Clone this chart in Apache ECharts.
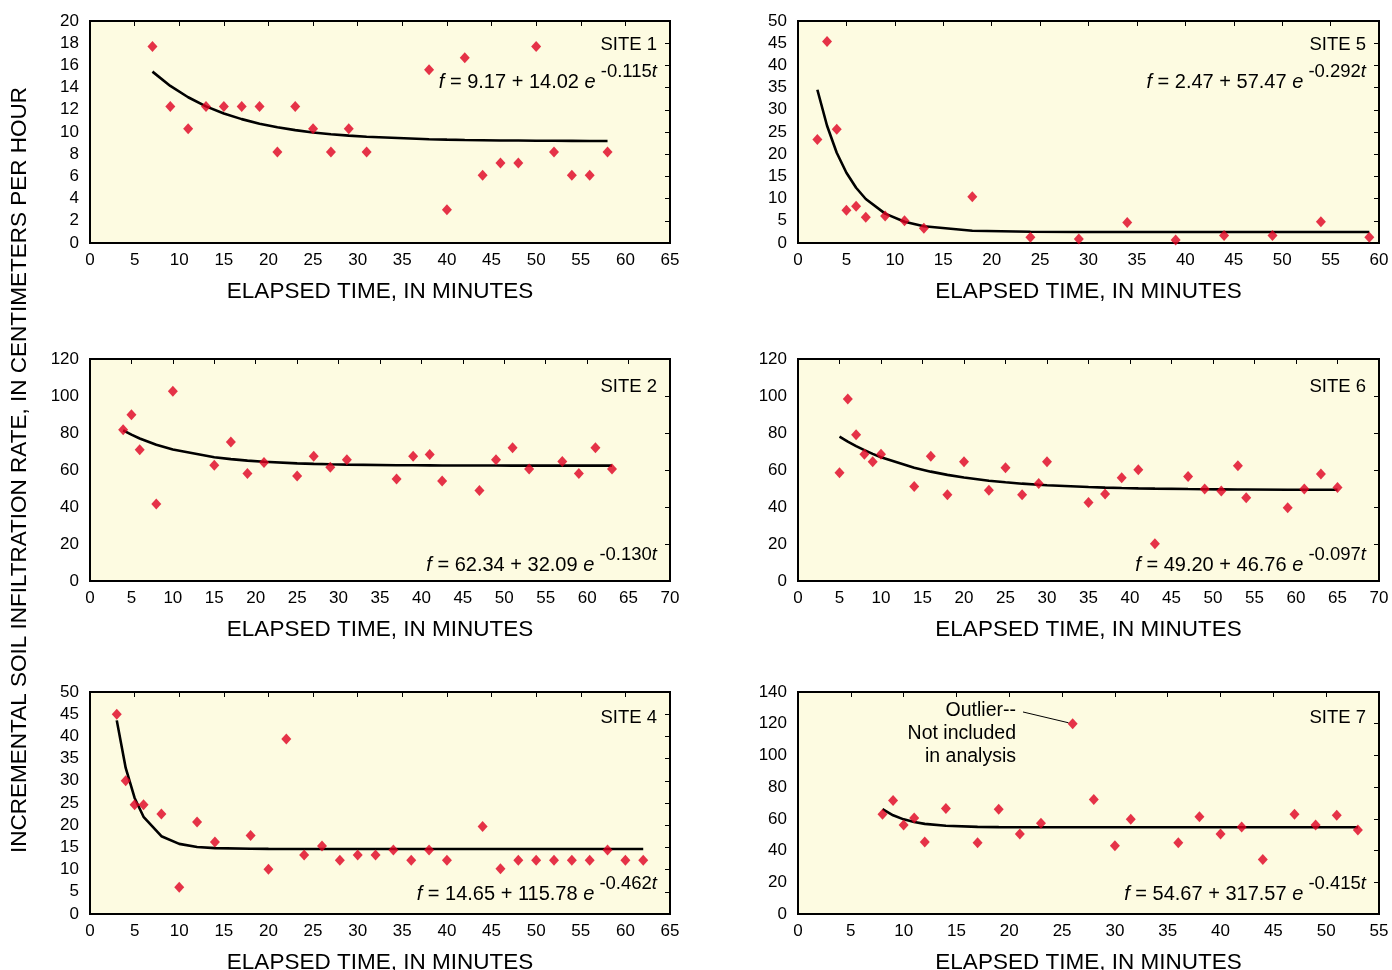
<!DOCTYPE html>
<html><head><meta charset="utf-8">
<script src="https://cdn.jsdelivr.net/npm/echarts@6/dist/echarts.min.js"></script>
<style>html,body{margin:0;padding:0;background:#fff}#c{width:1392px;height:970px}</style>
</head><body><div id="c"></div>
<script>
// ---------------- DATA ----------------
const xTitle = 'ELAPSED TIME, IN MINUTES';
const yTitle = 'INCREMENTAL SOIL INFILTRATION RATE, IN CENTIMETERS PER HOUR';

const site1Time = [7,9,11,13,15,17,19,21,23,25,27,29,31,38,40,42,44,46,48,50,52,54,56,58];
const site1Rate = [17.7,12.3,10.3,12.3,12.3,12.3,12.3,8.2,12.3,10.3,8.2,10.3,8.2,15.6,3.0,16.7,6.1,7.2,7.2,17.7,8.2,6.1,6.1,8.2];
const site1Fit  = [15.44,14.15,13.13,12.31,11.67,11.16,10.75,10.42,10.17,9.96,9.80,9.67,9.57,9.35,9.31,9.28,9.26,9.24,9.23,9.21,9.21,9.20,9.19,9.19];

const site5Time = [2,3,4,5,6,7,9,11,13,18,24,29,34,39,44,49,54,59];
const site5Rate = [23.3,45.4,25.6,7.4,8.3,5.8,6.1,5.0,3.3,10.4,1.3,0.9,4.6,0.7,1.7,1.7,4.8,1.3];
const site5Fit  = [34.52,26.40,20.34,15.82,12.44,9.91,6.62,4.78,3.76,2.77,2.52,2.48,2.47,2.47,2.47,2.47,2.47,2.47];

const site2Time = [4,5,6,8,10,15,17,19,21,25,27,29,31,37,39,41,42.5,47,49,51,53,57,59,61,63];
const site2Rate = [81.7,89.8,70.9,41.6,102.6,62.6,75.2,58.1,64.1,56.7,67.5,61.5,65.5,55.2,67.5,68.4,54.0,48.9,65.5,72.0,60.6,64.6,58.1,72.0,60.6];
const site2Fit  = [81.42,79.09,77.05,73.68,71.09,66.91,65.86,65.05,64.43,63.58,63.30,63.08,62.91,62.60,62.54,62.50,62.47,62.41,62.40,62.38,62.37,62.36,62.36,62.35,62.35];

const site6Time = [5,6,7,8,9,10,14,16,18,20,23,25,27,29,30,35,37,39,41,43,47,49,51,53,54,59,61,63,65];
const site6Rate = [58.5,98.4,79.0,68.5,64.4,68.5,51.1,67.5,46.6,64.4,49.1,61.2,46.6,52.7,64.4,42.4,47.0,55.8,60.1,20.2,56.5,49.7,48.6,62.3,45.0,39.6,49.7,57.9,50.6];
const site6Fit  = [77.99,75.33,72.91,70.72,68.73,66.93,61.23,59.11,57.36,55.92,54.22,53.34,52.61,52.01,51.75,50.77,50.49,50.26,50.08,49.92,49.69,49.60,49.53,49.47,49.45,49.35,49.33,49.30,49.29];

const site4Time = [3,4,5,6,8,10,12,14,18,20,22,24,26,28,30,32,34,36,38,40,44,46,48,50,52,54,56,58,60,62];
const site4Rate = [45.0,30.0,24.6,24.6,22.5,6.0,20.7,16.2,17.7,10.1,39.4,13.3,15.3,12.1,13.3,13.3,14.4,12.1,14.4,12.1,19.7,10.2,12.1,12.1,12.1,12.1,12.1,14.4,12.1,12.1];
const site4Fit  = [43.61,32.90,26.14,21.89,17.52,15.79,15.10,14.83,14.68,14.66,14.65,14.65,14.65,14.65,14.65,14.65,14.65,14.65,14.65,14.65,14.65,14.65,14.65,14.65,14.65,14.65,14.65,14.65,14.65,14.65];

const site7Time = [8,9,10,11,12,14,17,19,21,23,28,30,31.5,36,38,40,42,44,47,49,51,53];
const site7Rate = [62.9,71.6,56.2,60.6,45.4,66.5,45.0,66.1,50.5,57.2,72.2,43.1,59.8,45.0,61.4,50.5,54.9,34.4,62.9,56.2,62.3,53.0];
const site7Fit  = [66.16,62.25,59.68,57.97,56.85,55.62,54.94,54.79,54.72,54.69,54.67,54.67,54.67,54.67,54.67,54.67,54.67,54.67,54.67,54.67,54.67,54.67];
const site7OutlierTime = [26];
const site7OutlierRate = [120];
const outlierNote = ['Outlier--', 'Not included', 'in analysis'];
const outlierLeader = [[21.3, 127.4], [25.6, 120.6]];

const siteNames = ['SITE 1','SITE 5','SITE 2','SITE 6','SITE 4','SITE 7'];
const eqConst = ['9.17 + 14.02','2.47 + 57.47','62.34 + 32.09','49.20 + 46.76','14.65 + 115.78','54.67 + 317.57'];
const eqRate  = ['-0.115','-0.292','-0.130','-0.097','-0.462','-0.415'];
const xMaxes = [65,60,70,70,65,55];
const yMaxes = [20,50,120,120,50,140];
const yIntervals = [2,5,20,20,5,20];

// ---------------- LAYOUT / STYLE ----------------
const FONT = '"Liberation Sans", Arial, Helvetica, sans-serif';
const BG = '#FDFBE1';
const RED = '#DF0020';
const colLeft = [90, 798], colWidth = [580, 581];
const rowTop = [21, 359, 692], rowHeight = 222;
const eqY = [77, 560, 889];      // vertical centre of equation text box per row
const siteY = [45, 387, 718];    // vertical centre of SITE label per row

const panels = [
  {t: site1Time, r: site1Rate, f: site1Fit},
  {t: site5Time, r: site5Rate, f: site5Fit},
  {t: site2Time, r: site2Rate, f: site2Fit},
  {t: site6Time, r: site6Rate, f: site6Fit},
  {t: site4Time, r: site4Rate, f: site4Fit},
  {t: site7Time, r: site7Rate, f: site7Fit}
];

const grids = [], xAxes = [], yAxes = [], series = [], graphics = [];
const axisLine = {show: true, onZero: false, lineStyle: {color: '#000', width: 2}};
const innerTick = {show: true, inside: true, length: 5, lineStyle: {color: '#000', width: 1}};

panels.forEach((p, i) => {
  const col = i % 2, row = Math.floor(i / 2);
  const left = colLeft[col], top = rowTop[row], w = colWidth[col];
  grids.push({left, top, width: w, height: rowHeight, show: true, backgroundColor: BG,
              borderColor: '#000', borderWidth: 2, containLabel: false, outerBoundsMode: 'none'});
  xAxes.push({type: 'value', gridIndex: i, min: 0, max: xMaxes[i], interval: 5, position: 'bottom',
    axisLine, axisTick: {show: false}, splitLine: {show: false},
    axisLabel: {color: '#000', fontSize: 17, fontFamily: FONT, margin: 9},
    name: xTitle, nameLocation: 'middle', nameGap: 37,
    nameTextStyle: {color: '#000', fontSize: 22.5, fontFamily: FONT}});
  xAxes.push({type: 'value', gridIndex: i, min: 0, max: xMaxes[i], interval: 5, position: 'top',
    axisLine, axisTick: innerTick, axisLabel: {show: false}, splitLine: {show: false}});
  yAxes.push({type: 'value', gridIndex: i, min: 0, max: yMaxes[i], interval: yIntervals[i], position: 'left',
    axisLine, axisTick: {show: false}, splitLine: {show: false},
    axisLabel: {color: '#000', fontSize: 17, fontFamily: FONT, margin: 11}});
  yAxes.push({type: 'value', gridIndex: i, min: 0, max: yMaxes[i], interval: yIntervals[i], position: 'right',
    axisLine, axisTick: innerTick, axisLabel: {show: false}, splitLine: {show: false}});

  series.push({type: 'line', xAxisIndex: 2*i, yAxisIndex: 2*i, data: p.t.map((t, k) => [t, p.f[k]]),
    showSymbol: false, symbol: 'none', lineStyle: {color: '#000', width: 2.6}, z: 2, silent: true});
  series.push({type: 'scatter', xAxisIndex: 2*i, yAxisIndex: 2*i, data: p.t.map((t, k) => [t, p.r[k]]),
    symbol: 'diamond', symbolSize: [10, 11], itemStyle: {color: RED}, z: 3, silent: true});

  const rightX = left + w - 13;
  graphics.push({type: 'text', x: rightX, y: siteY[row],
    style: {text: siteNames[i], font: '18.5px ' + FONT, fill: '#000', align: 'right', verticalAlign: 'middle',
            textAlign: 'right', textVerticalAlign: 'middle'}});
  graphics.push({type: 'text', x: rightX, y: eqY[row],
    style: {text: '{i|f}{n| = ' + eqConst[i] + ' }{i|e}{s| ' + eqRate[i] + '}{si|t}',
      align: 'right', verticalAlign: 'middle', textAlign: 'right', textVerticalAlign: 'middle',
      fill: '#000', font: '20px ' + FONT,
      rich: {
        n: {fontSize: 20, fontFamily: FONT, lineHeight: 30, verticalAlign: 'bottom', fill: '#000'},
        i: {fontSize: 20, fontFamily: FONT, fontStyle: 'italic', lineHeight: 30, verticalAlign: 'bottom', fill: '#000'},
        s: {fontSize: 18.5, fontFamily: FONT, lineHeight: 24, verticalAlign: 'top', fill: '#000'},
        si: {fontSize: 18.5, fontFamily: FONT, fontStyle: 'italic', lineHeight: 24, verticalAlign: 'top', fill: '#000'}
      }}});
});

// outlier in site 7 (panel index 5)
series.push({type: 'scatter', xAxisIndex: 10, yAxisIndex: 10,
  data: site7OutlierTime.map((t, k) => [t, site7OutlierRate[k]]),
  symbol: 'diamond', symbolSize: [10, 11], itemStyle: {color: RED}, z: 3, silent: true,
  markLine: {silent: true, symbol: ['none', 'none'], animation: false, label: {show: false},
    lineStyle: {color: '#000', width: 1, type: 'solid'},
    data: [[{coord: outlierLeader[0]}, {coord: outlierLeader[1]}]]}});

graphics.push({type: 'text', x: 1016, y: 699,
  style: {text: outlierNote.join('\n'), font: '19.5px ' + FONT, fill: '#000', lineHeight: 23,
          align: 'right', verticalAlign: 'top', textAlign: 'right', textVerticalAlign: 'top'}});

graphics.push({type: 'text', x: 20, y: 470, rotation: Math.PI / 2,
  style: {text: yTitle, font: '22.5px ' + FONT, fill: '#000', align: 'center', verticalAlign: 'middle',
          textAlign: 'center', textVerticalAlign: 'middle'}});

const chart = echarts.init(document.getElementById('c'), null, {renderer: 'canvas'});
chart.setOption({animation: false, backgroundColor: '#fff', grid: grids, xAxis: xAxes, yAxis: yAxes,
  series, graphic: graphics});
</script></body></html>
